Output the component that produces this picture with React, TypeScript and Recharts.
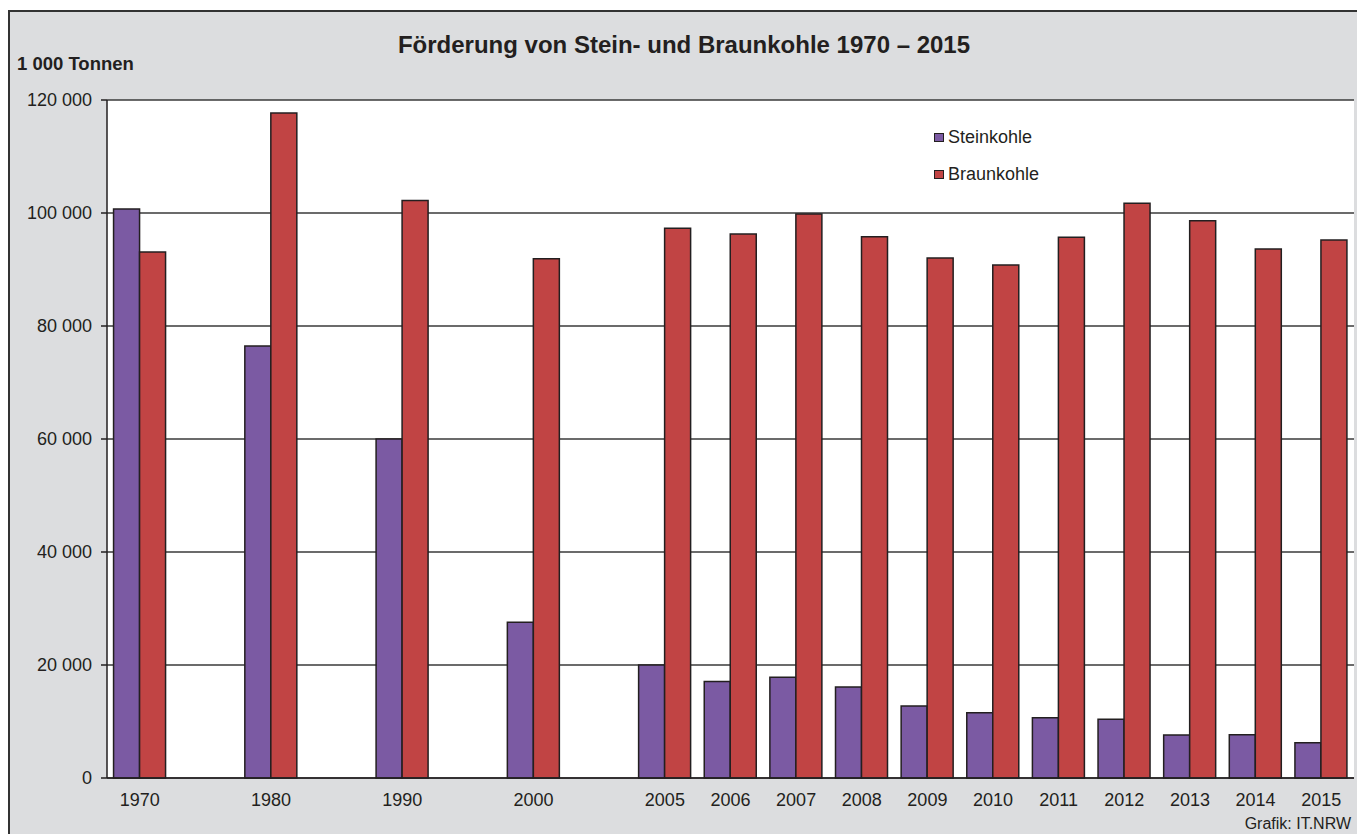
import { BarChart, Bar, XAxis, YAxis, CartesianGrid, Legend } from "recharts";

// leere Einträge halten die Lücken zwischen den Jahrzehnten frei
const years = [
  "1970", "", "1980", "", "1990", "", "2000", "",
  "2005", "2006", "2007", "2008", "2009", "2010", "2011", "2012", "2013", "2014", "2015",
];
const steinkohle = [
  100700, null, 76450, null, 60000, null, 27570, null,
  20010, 17060, 17830, 16120, 12750, 11560, 10680, 10390, 7610, 7660, 6250,
];
const braunkohle = [
  93100, null, 117700, null, 102200, null, 91900, null,
  97280, 96290, 99830, 95810, 92040, 90800, 95690, 101720, 98650, 93630, 95230,
];
const yTicks = [0, 20000, 40000, 60000, 80000, 100000, 120000];
const seriesOrder = ["Steinkohle", "Braunkohle"];

const chartData = years.map((year, i) => ({
  year,
  Steinkohle: steinkohle[i],
  Braunkohle: braunkohle[i],
}));

const FONT = "'Liberation Sans', Arial, Helvetica, sans-serif";
const INK = "#231f20";

const fmt = (v: number) => String(v).replace(/\B(?=(\d{3})+(?!\d))/g, " ");

const LegendBox = ({ payload }: any) => {
  const items = [...(payload || [])].sort(
    (a: any, b: any) => seriesOrder.indexOf(a.value) - seriesOrder.indexOf(b.value)
  );
  return (
    <div style={{ fontFamily: FONT, fontSize: 18, color: INK }}>
      {items.map((entry: any) => (
        <div
          key={entry.value}
          style={{ display: "flex", alignItems: "center", height: 37 }}
        >
          <span
            style={{
              display: "inline-block",
              width: 10,
              height: 9,
              boxSizing: "border-box",
              border: `1.5px solid ${INK}`,
              background: entry.color,
              marginRight: 4,
            }}
          />
          {entry.value}
        </div>
      ))}
    </div>
  );
};

export default function App() {
  return (
    <div
      style={{
        position: "absolute",
        left: 0,
        top: 0,
        width: 1357,
        height: 834,
        overflow: "hidden",
        background: "#fff",
        fontFamily: FONT,
      }}
    >
      <div
        style={{
          position: "absolute",
          left: 8,
          top: 10,
          width: 1349,
          height: 824,
          boxSizing: "border-box",
          background: "#dcdddf",
          borderLeft: "2px solid #333",
          borderTop: "2px solid #333",
        }}
      />
      <div
        style={{
          position: "absolute",
          left: 0,
          top: 33,
          width: 1368,
          textAlign: "center",
          fontSize: 24,
          lineHeight: "24px",
          fontWeight: "bold",
          color: INK,
        }}
      >
        Förderung von Stein- und Braunkohle 1970 – 2015
      </div>
      <div
        style={{
          position: "absolute",
          left: 17,
          top: 55,
          fontSize: 18.5,
          lineHeight: "18px",
          fontWeight: "bold",
          color: INK,
        }}
      >
        1 000 Tonnen
      </div>
      <div
        style={{
          position: "absolute",
          right: 6,
          top: 816,
          fontSize: 16,
          lineHeight: "16px",
          color: INK,
        }}
      >
        Grafik: IT.NRW
      </div>
      <div style={{ position: "absolute", left: 0, top: 0 }}>
        <BarChart
          width={1357}
          height={834}
          data={chartData}
          margin={{ top: 100, right: 3, bottom: 26, left: 0 }}
          barCategoryGap="10%"
          barGap={0}
        >
          <CartesianGrid
            vertical={false}
            stroke="#3a3a3a"
            strokeWidth={1.5}
            fill="#fff"
          />
          <XAxis
            dataKey="year"
            height={30}
            tickLine={false}
            tickSize={6}
            tickMargin={9}
            axisLine={{ stroke: INK, strokeWidth: 1.5 }}
            tick={{ fill: INK, fontSize: 18, fontFamily: FONT }}
            interval={0}
          />
          <YAxis
            width={107}
            domain={[0, 120000]}
            ticks={yTicks}
            tickFormatter={fmt}
            tickSize={6}
            tickMargin={9}
            axisLine={{ stroke: INK, strokeWidth: 1.5 }}
            tickLine={{ stroke: INK, strokeWidth: 1.5 }}
            tick={{ fill: INK, fontSize: 18, fontFamily: FONT }}
            interval={0}
          />
          <Legend
            layout="vertical"
            align="center"
            verticalAlign="middle"
            content={<LegendBox />}
            wrapperStyle={{ position: "absolute", left: 934, top: 119, width: "auto" }}
          />
          <Bar
            dataKey="Steinkohle"
            fill="#7b5aa3"
            stroke={INK}
            strokeWidth={1.5}
            isAnimationActive={false}
          />
          <Bar
            dataKey="Braunkohle"
            fill="#c14444"
            stroke={INK}
            strokeWidth={1.5}
            isAnimationActive={false}
          />
        </BarChart>
      </div>
    </div>
  );
}
